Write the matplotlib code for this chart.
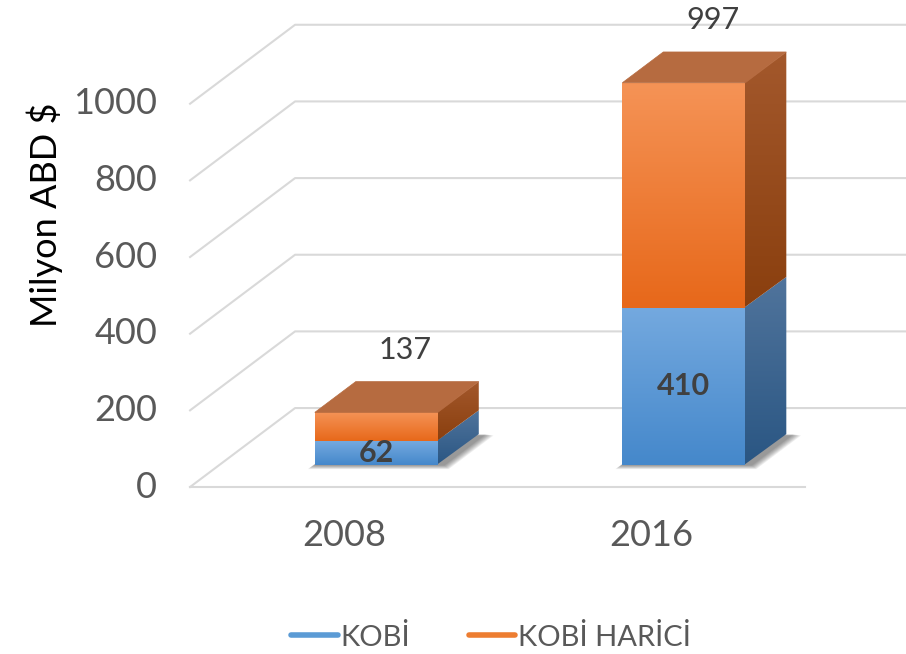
import numpy as np
import matplotlib
matplotlib.use("Agg")
import matplotlib.pyplot as plt
from matplotlib.patches import Polygon
from matplotlib.lines import Line2D
from matplotlib.colors import LinearSegmentedColormap

years = ['2008', '2016']
kobi = [62, 410]
kobi_harici = [75, 587]
y_ticks = [0, 200, 400, 600, 800, 1000]
series_names = ['KOBİ', 'KOBİ HARİCİ']

# oblique "3d" look: depth d goes from 0 (front) to 1 (back wall)
DX = 0.3415
DY = 206.0
BAR_W = 0.4
D0, D1 = 0.28, 0.67

FONT = ['Lato', 'DejaVu Sans']
GREY = '#595959'
DARK = '#404040'
GRID = '#d9d9d9'

plt.rcParams['font.family'] = FONT


def proj(x, y, d):
    return (x + d * DX, y + d * DY)


def grad_fill(ax, verts, c_top, c_bot, z):
    '''polygon with a vertical colour gradient'''
    poly = Polygon(verts, closed=True, facecolor='none', edgecolor='none')
    ax.add_patch(poly)
    xs = [p[0] for p in verts]
    ys = [p[1] for p in verts]
    cmap = LinearSegmentedColormap.from_list('g', [c_bot, c_top])
    img = ax.imshow(np.linspace(0, 1, 200).reshape(-1, 1), cmap=cmap,
                    origin='lower', aspect='auto', interpolation='bicubic',
                    extent=[min(xs), max(xs), min(ys), max(ys)], zorder=z)
    img.set_clip_path(poly)


fig = plt.figure(figsize=(9.06, 6.54), dpi=100)
ax = fig.add_axes([0, 0, 1, 1])
ax.set_axis_off()

# walls / grid
for v in y_ticks:
    a = proj(-0.5, v, 0)
    b = proj(-0.5, v, 1)
    c = proj(1.6, v, 1)
    ax.plot([a[0], b[0], c[0]], [a[1], b[1], c[1]], color=GRID, lw=1.5, zorder=1)
    ax.annotate(str(v), xy=a, xytext=(-33, 0), textcoords='offset pixels',
                ha='right', va='center', fontsize=26, color=GREY)
f0 = proj(-0.5, 0, 0)
f1 = proj(1.5, 0, 0)
ax.plot([f0[0], f1[0]], [f0[1], f1[1]], color=GRID, lw=1.5, zorder=1)

blue = dict(front=('#74a9df', '#4588cb'), side=('#50749c', '#2a5683'))
orange = dict(front=('#f59356', '#e7681a'), side=('#a3582c', '#8a3f0e'))
top_col = '#b66b40'

for i, yr in enumerate(years):
    x0 = i - BAR_W / 2 + 0.01
    x1 = i + BAR_W / 2 + 0.01
    total = kobi[i] + kobi_harici[i]

    # soft shadow on the floor
    n = 8
    for k in range(n):
        e = 0.003 * (n - k)
        sh = [proj(x0 - e * 0.6, -e * 250, D0 - e),
              proj(x1 + 0.02 + e, -e * 250, D0 - e),
              proj(x1 + 0.02 + e, -e * 250, D1 + e * 0.5),
              proj(x0 - e * 0.6, -e * 250, D1 + e * 0.5)]
        ax.add_patch(Polygon(sh, closed=True, facecolor='#202020',
                             edgecolor='none', alpha=0.07, zorder=2))

    bottom = 0
    for vals, col in ((kobi, blue), (kobi_harici, orange)):
        top = bottom + vals[i]
        front = [proj(x0, bottom, D0), proj(x1, bottom, D0),
                 proj(x1, top, D0), proj(x0, top, D0)]
        side = [proj(x1 - 0.004, bottom, D0), proj(x1, bottom, D1),
                proj(x1, top, D1), proj(x1 - 0.004, top, D0)]
        grad_fill(ax, side, col['side'][0], col['side'][1], 3)
        grad_fill(ax, front, col['front'][0], col['front'][1], 4)
        bottom = top

    lid = [proj(x0, total, D0), proj(x1, total, D0),
           proj(x1, total, D1), proj(x0, total, D1)]
    ax.add_patch(Polygon(lid, closed=True, facecolor=top_col,
                         edgecolor=top_col, lw=0.5, zorder=5))

    # labels
    ax.text(*proj(i + 0.01, kobi[i] / 2, D0), str(kobi[i]), ha='center',
            va='center', fontsize=22, fontweight='bold', color=DARK, zorder=10)
    ax.annotate(str(total), xy=proj(i + 0.01, total, D1), xytext=(-12, 32),
                textcoords='offset pixels', ha='center', va='center',
                fontsize=22, color=DARK, zorder=10)
    ax.annotate(yr, xy=proj(i, 0, 0), xytext=(0, -48),
                textcoords='offset pixels', ha='center', va='center',
                fontsize=26, color=GREY)

ax.set_xlim(-1.118, 1.828)
ax.set_ylim(-435.7, 1270.6)

fig.text(45 / 906, 1 - 215 / 654, 'Milyon ABD $', rotation=90,
         ha='center', va='center', fontsize=26, color='black')

handles = [Line2D([0], [0], color='#5b9bd5', lw=4, solid_capstyle='round'),
           Line2D([0], [0], color='#ed7d31', lw=4, solid_capstyle='round')]
leg = fig.legend(handles, series_names, loc='center', ncol=2,
                 bbox_to_anchor=(491 / 906, 1 - 637 / 654), frameon=False,
                 fontsize=21, handlelength=1.6, handletextpad=0.1,
                 columnspacing=2.0)
for t in leg.get_texts():
    t.set_color(GREY)

fig.savefig('out.png', dpi=100)
